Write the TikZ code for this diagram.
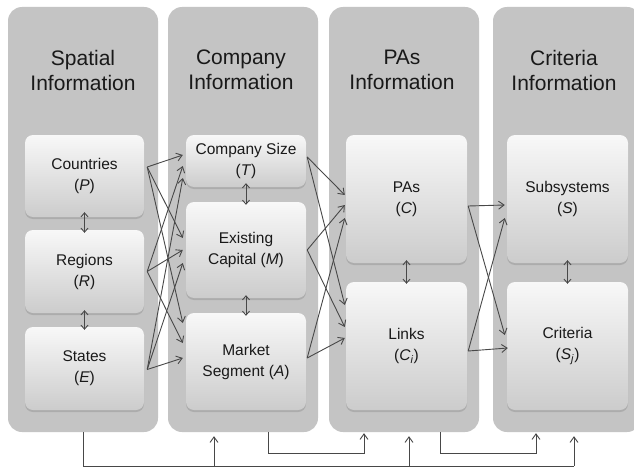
\documentclass[tikz,border=0pt]{standalone}
\usepackage{fontspec}
\setmainfont{Liberation Sans}
\usetikzlibrary{shadows,arrows.meta}
\definecolor{panelgray}{RGB}{196,196,196}
\definecolor{boxtop}{RGB}{248,248,248}
\definecolor{boxbot}{RGB}{204,204,204}
\definecolor{linegray}{RGB}{72,72,72}
\definecolor{textdark}{RGB}{25,25,25}
\begin{document}
\begin{tikzpicture}[x=1pt,y=1pt,
 panel/.style={fill=panelgray, rounded corners=14pt, minimum width=150pt, minimum height=425pt, inner sep=0pt, draw=none},
 title/.style={font=\fontsize{21}{25}\selectfont, text=textdark, align=center},
 box/.style={rounded corners=8pt, top color=boxtop, bottom color=boxbot, draw=none, inner sep=0pt,
   font=\fontsize{15.5}{21}\selectfont, text=textdark, align=center,
   drop shadow={shadow xshift=0pt, shadow yshift=-2pt, opacity=0.35}},
 conn/.style={draw=linegray, line width=0.9pt, -{Straight Barb[length=5.5pt,width=8pt]}},
 dbl/.style={draw=linegray, line width=0.9pt, {Straight Barb[length=4pt,width=7pt]}-{Straight Barb[length=4pt,width=7pt]}},
 bus/.style={draw=linegray, line width=0.9pt}]

\useasboundingbox (0,0) rectangle (634,-468);
\fill[white] (0,0) rectangle (634,-468);

% panels
\node[panel] (pan1) at (83,-219.5) {};
\node[panel] (pan2) at (243,-219.5) {};
\node[panel] (pan3) at (404,-219.5) {};
\node[panel, minimum width=148pt] (pan4) at (567,-219.5) {};

% titles
\node[title] (h1) at (83,-70) {Spatial\\Information};
\node[title] (h2) at (241,-70) {Company\\Information};
\node[title] (h3) at (402,-70) {PAs\\Information};
\node[title] (h4) at (564,-70) {Criteria\\Information};

% boxes
\node[box, minimum width=119pt, minimum height=82pt] (P) at (84.5,-176) {Countries\\(\textit{P})};
\node[box, minimum width=119pt, minimum height=83pt] (R) at (84.5,-271.5) {Regions\\(\textit{R})};
\node[box, minimum width=119pt, minimum height=83pt] (E) at (84.5,-368.5) {States\\(\textit{E})};
\node[box, minimum width=120pt, minimum height=52pt] (T) at (246,-161) {Company Size\\(\textit{T})};
\node[box, minimum width=120pt, minimum height=96pt] (M) at (246,-250) {Existing\\Capital (\textit{M})};
\node[box, minimum width=120pt, minimum height=97pt] (A) at (246,-361.5) {Market\\Segment (\textit{A})};
\node[box, minimum width=121pt, minimum height=128pt] (C) at (406.5,-199) {PAs\\(\textit{C})};
\node[box, minimum width=121pt, minimum height=128pt] (Ci) at (406.5,-346) {Links\\(\textit{C}\textsubscript{\textit{i}})};
\node[box, minimum width=121pt, minimum height=128pt] (S) at (567.5,-199) {Subsystems\\(\textit{S})};
\node[box, minimum width=121pt, minimum height=128pt] (Sj) at (567.5,-346) {Criteria\\(\textit{S}\textsubscript{\textit{j}})};

% spatial -> company
\draw[conn] ([shift={(3,9)}]P.east) -- ([shift={(-3,6)}]T.west);
\draw[conn] ([shift={(3,9)}]P.east) -- ([shift={(-3,12)}]M.west);
\draw[conn] ([shift={(3,9)}]P.east) -- ([shift={(-3,38.5)}]A.west);
\draw[conn] ([shift={(3,0)}]R.east) -- ([shift={(-3,-5)}]T.west);
\draw[conn] ([shift={(3,0)}]R.east) -- ([shift={(-3,0)}]M.west);
\draw[conn] ([shift={(3,0)}]R.east) -- ([shift={(-3,18.5)}]A.west);
\draw[conn] ([shift={(3,-1)}]E.east) -- ([shift={(-3,-17)}]T.west);
\draw[conn] ([shift={(3,-1)}]E.east) -- ([shift={(-3,-13)}]M.west);
\draw[conn] ([shift={(3,-1)}]E.east) -- ([shift={(-3,3.5)}]A.west);

% company -> PAs
\draw[conn] ([shift={(1,4)}]T.east) -- ([shift={(-1,4)}]C.west);
\draw[conn] ([shift={(1,4)}]T.east) -- ([shift={(-1,41)}]Ci.west);
\draw[conn] ([shift={(1,0)}]M.east) -- ([shift={(-1,-6)}]C.west);
\draw[conn] ([shift={(1,0)}]M.east) -- ([shift={(-1,19)}]Ci.west);
\draw[conn] ([shift={(1,3.5)}]A.east) -- ([shift={(-1,-19)}]C.west);
\draw[conn] ([shift={(1,3.5)}]A.east) -- ([shift={(-1,8)}]Ci.west);

% PAs -> criteria
\draw[conn] ([shift={(1,-7)}]C.east) -- ([shift={(-2,-6)}]S.west);
\draw[conn] ([shift={(1,-7)}]C.east) -- ([shift={(-2,11)}]Sj.west);
\draw[conn] ([shift={(1,-5)}]Ci.east) -- ([shift={(-2,-19)}]S.west);
\draw[conn] ([shift={(1,-5)}]Ci.east) -- ([shift={(1,-2)}]Sj.west);

% vertical double arrows
\draw[dbl] ([yshift=5pt]P.south) -- ([yshift=-3pt]R.north);
\draw[dbl] ([yshift=3pt]R.south) -- ([yshift=-3pt]E.north);
\draw[dbl] ([yshift=4pt]T.south) -- ([yshift=-3pt]M.north);
\draw[dbl] ([yshift=3pt]M.south) -- ([yshift=-3pt]A.north);
\draw[dbl] ([yshift=3pt]C.south) -- ([yshift=-2pt]Ci.north);
\draw[dbl] ([yshift=3pt]S.south) -- ([yshift=-2pt]Sj.north);

% bottom feedback lines
\coordinate (j1) at (83,-466);
\coordinate (t2) at (214,-466);
\coordinate (t3) at (409,-466);
\coordinate (t4) at (574,-466);
\draw[bus] (pan1.south) -- (j1) -- (t4);
\draw[conn, shorten >=4pt] (t2) -- (t2 |- pan2.south);
\draw[conn, shorten >=4pt] (t3) -- (t3 |- pan3.south);
\draw[conn, shorten >=4pt] (t4) -- (t4 |- pan4.south);

\coordinate (k2) at (268,-453);
\coordinate (u3) at (364,-453);
\draw[conn, shorten >=1pt] (k2 |- pan2.south) -- (k2) -- (u3) -- (u3 |- pan3.south);
\coordinate (k3) at (440,-453);
\coordinate (u4) at (536,-453);
\draw[conn, shorten >=1pt] (k3 |- pan3.south) -- (k3) -- (u4) -- (u4 |- pan4.south);
\end{tikzpicture}
\end{document}
